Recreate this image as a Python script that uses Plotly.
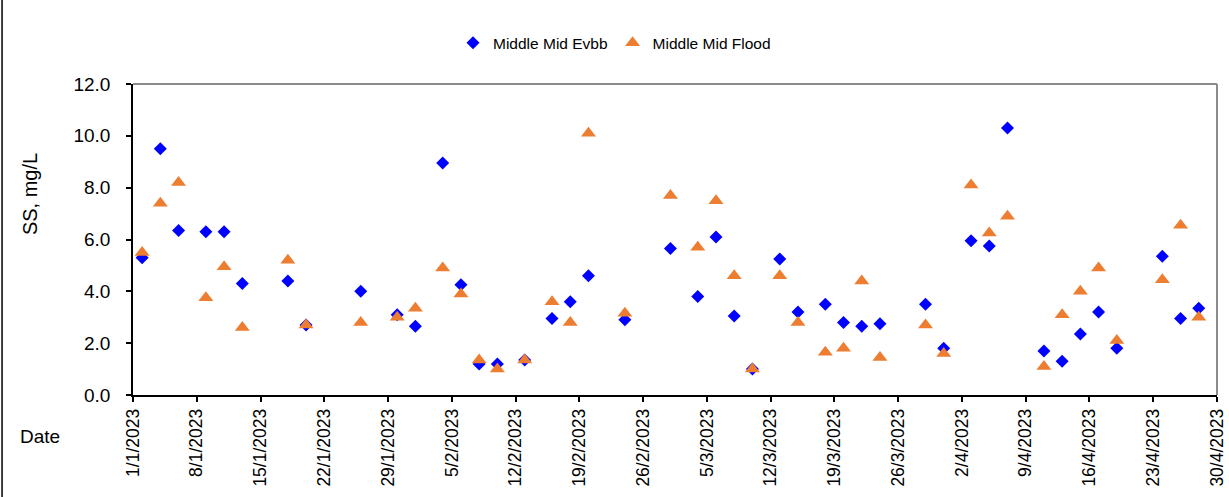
import plotly.graph_objects as go

# sampling dates (same days for both series)
dates = ['2023-01-02', '2023-01-04', '2023-01-06', '2023-01-09', '2023-01-11', '2023-01-13',
         '2023-01-18', '2023-01-20', '2023-01-26', '2023-01-30', '2023-02-01', '2023-02-04',
         '2023-02-06', '2023-02-08', '2023-02-10', '2023-02-13', '2023-02-16', '2023-02-18',
         '2023-02-20', '2023-02-24', '2023-03-01', '2023-03-04', '2023-03-06', '2023-03-08',
         '2023-03-10', '2023-03-13', '2023-03-15', '2023-03-18', '2023-03-20', '2023-03-22',
         '2023-03-24', '2023-03-29', '2023-03-31', '2023-04-03', '2023-04-05', '2023-04-07',
         '2023-04-11', '2023-04-13', '2023-04-15', '2023-04-17', '2023-04-19', '2023-04-24',
         '2023-04-26', '2023-04-28']

evbb = [5.3, 9.5, 6.35, 6.3, 6.3, 4.3, 4.4, 2.7, 4.0, 3.1, 2.65, 8.95,
        4.25, 1.2, 1.2, 1.35, 2.95, 3.6, 4.6, 2.9, 5.65, 3.8, 6.1, 3.05,
        1.0, 5.25, 3.2, 3.5, 2.8, 2.65, 2.75, 3.5, 1.8, 5.95, 5.75, 10.3,
        1.7, 1.3, 2.35, 3.2, 1.8, 5.35, 2.95, 3.35]

flood = [5.5, 7.4, 8.2, 3.75, 4.95, 2.6, 5.2, 2.7, 2.8, 3.0, 3.35, 4.9,
         3.9, 1.35, 1.0, 1.35, 3.6, 2.8, 10.1, 3.15, 7.7, 5.7, 7.5, 4.6,
         1.0, 4.6, 2.8, 1.65, 1.8, 4.4, 1.45, 2.7, 1.6, 8.1, 6.25, 6.9,
         1.1, 3.1, 4.0, 4.9, 2.1, 4.45, 6.55, 3.0]

tick_dates = ['2023-01-01', '2023-01-08', '2023-01-15', '2023-01-22', '2023-01-29', '2023-02-05',
              '2023-02-12', '2023-02-19', '2023-02-26', '2023-03-05', '2023-03-12', '2023-03-19',
              '2023-03-26', '2023-04-02', '2023-04-09', '2023-04-16', '2023-04-23', '2023-04-30']
tick_text = ['1/1/2023', '8/1/2023', '15/1/2023', '22/1/2023', '29/1/2023', '5/2/2023',
             '12/2/2023', '19/2/2023', '26/2/2023', '5/3/2023', '12/3/2023', '19/3/2023',
             '26/3/2023', '2/4/2023', '9/4/2023', '16/4/2023', '23/4/2023', '30/4/2023']

FONT = 'Liberation Sans, Arial, sans-serif'

fig = go.Figure()

fig.add_trace(go.Scatter(
    x=dates, y=evbb, mode='markers', name='Middle Mid Evbb',
    marker=dict(symbol='diamond', size=10, color='#0000FF')
))
fig.add_trace(go.Scatter(
    x=dates, y=flood, mode='markers', name='Middle Mid Flood',
    marker=dict(symbol='triangle-up', size=13, color='#ED7D31')
))

fig.update_layout(
    width=1229, height=497,
    margin=dict(l=133, r=12, t=84, b=102),
    plot_bgcolor='white', paper_bgcolor='white',
    font=dict(family=FONT, color='black', size=17),
    showlegend=True,
    legend=dict(orientation='h', xref='container', x=0.5, xanchor='center',
                yref='container', y=0.913, yanchor='middle',
                font=dict(size=15.5), itemwidth=30, tracegroupgap=0),
    xaxis=dict(
        range=['2023-01-01', '2023-04-30'], automargin=False,
        tickvals=tick_dates, ticktext=tick_text, tickangle=-90,
        ticks='outside', ticklen=5, tickcolor='black', tickwidth=1.5,
        showline=True, linecolor='black', linewidth=1.5,
        showgrid=False, zeroline=False, tickfont=dict(size=17.5),
    ),
    yaxis=dict(
        range=[0, 12], dtick=2, tickformat='.1f', automargin=False,
        ticks='outside', ticklen=5, tickcolor='black', tickwidth=1.5,
        ticklabelstandoff=12,
        showline=True, linecolor='black', linewidth=1.5,
        showgrid=False, zeroline=False, tickfont=dict(size=19),
    ),
    shapes=[
        # gray top and right frame of the plot area
        dict(type='line', xref='paper', yref='paper', x0=0, x1=1, y0=1, y1=1,
             line=dict(color='#8C8C8C', width=2)),
        dict(type='line', xref='paper', yref='paper', x0=1, x1=1, y0=0, y1=1,
             line=dict(color='#8C8C8C', width=2)),
        # chart border on the left
        dict(type='line', xref='paper', yref='paper', x0=-0.1208, x1=-0.1208, y0=-0.33, y1=1.28,
             line=dict(color='black', width=1.5)),
    ],
    annotations=[
        dict(text='SS, mg/L', textangle=-90, xref='paper', yref='paper',
             x=-0.095, y=0.646, xanchor='center', yanchor='middle',
             showarrow=False, font=dict(size=20)),
        dict(text='Date', xref='paper', yref='paper',
             x=-0.106, y=-0.135, xanchor='left', yanchor='middle',
             showarrow=False, font=dict(size=19)),
    ],
)

# drop the default page margin so the figure sits at the window origin
fig.write_html("out.html", config={'displayModeBar': False},
               post_script="document.body.style.margin='0';")
